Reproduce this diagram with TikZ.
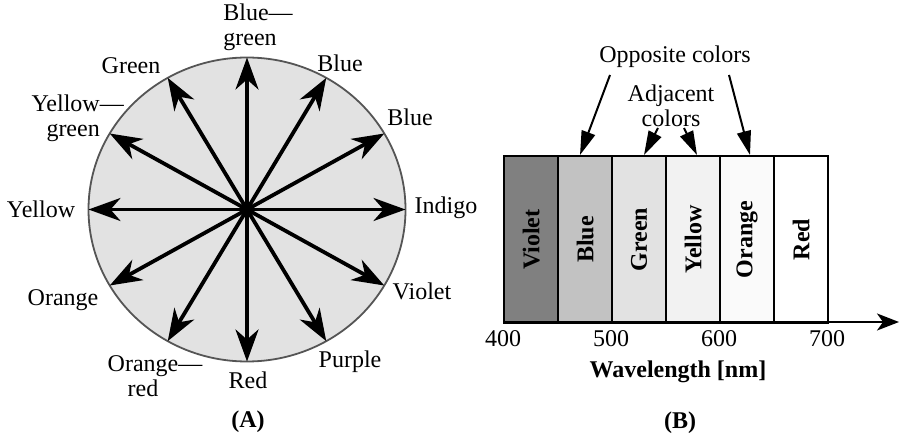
\documentclass[tikz,border=0pt]{standalone}
\usepackage{fontspec}
\setmainfont{Liberation Serif}
\usetikzlibrary{arrows.meta,calc}
\definecolor{wheelfill}{HTML}{E2E2E2}
\definecolor{wheeledge}{HTML}{555555}
\definecolor{cviolet}{HTML}{808080}
\definecolor{cblue}{HTML}{C2C2C2}
\definecolor{cgreen}{HTML}{E2E2E2}
\definecolor{cyellow}{HTML}{F2F2F2}
\definecolor{corange}{HTML}{FAFAFA}
\definecolor{cred}{HTML}{FFFFFF}
\tikzset{
  lbl/.style={inner sep=0pt, font=\fontsize{24}{25}\selectfont},
  blbl/.style={inner sep=0pt, font=\fontsize{24}{25}\selectfont\bfseries},
  ray/.style={line width=3.8pt, -{Stealth[length=32pt,width=23pt,inset=10pt]}},
  pointer/.style={line width=2pt, -{Triangle[length=24pt,width=14pt]}},
  band/.style={draw=black, line width=2.2pt, minimum width=54pt, minimum height=167pt, inner sep=0pt, anchor=north west},
  bandtxt/.style={rotate=90, inner sep=0pt, font=\fontsize{24}{25}\selectfont\bfseries}
}
\begin{document}
\begin{tikzpicture}[x=1pt,y=-1pt]
\useasboundingbox (0,0) rectangle (901,435);
% ---------- (A) colour wheel ----------
\coordinate (c) at (247,209.5);
\draw[fill=wheelfill, draw=wheeledge, line width=1.8pt] (c) ellipse [x radius=158.5pt, y radius=152pt];
\foreach \a/\n in {0/e0,30/e30,60/e60,90/e90,120/e120,150/e150,180/e180,210/e210,240/e240,270/e270,300/e300,330/e330}{
  \coordinate (\n) at ($(c)+(\a:158.5pt and 152pt)$);
}
\foreach \n in {e0,e30,e60,e90,e120,e150,e180,e210,e240,e270,e300,e330}{
  \draw[ray] (c) -- (\n);
}
\node[lbl, align=left] (lbg) at (250,27) {Blue\rlap{—}\\green};
\node[lbl] (lgreen) at (131,66) {Green};
\node[lbl] (lblue1) at (340,63) {Blue};
\node[lbl] (lblue2) at (410,117) {Blue};
\node[lbl, align=right, anchor=east] (lyg) at (100,118) {Yellow\rlap{—}\\green};
\node[lbl] (lyellow) at (41,209) {Yellow};
\node[lbl] (lindigo) at (446,208) {Indigo};
\node[lbl] (lviolet) at (422,291) {Violet};
\node[lbl] (lorange) at (63,300) {Orange};
\node[lbl, align=center] (lor) at (143,376) {Orange\rlap{—}\\red};
\node[lbl] (lred) at (248,380) {Red};
\node[lbl] (lpurple) at (350,362) {Purple};
\node[blbl] (capA) at (248,422) {(A)};
% ---------- (B) spectrum ----------
\node[band, fill=cviolet] (bviolet) at (503,155) {};
\node[band, fill=cblue] (bblue) at (557,155) {};
\node[band, fill=cgreen] (bgreen) at (611,155) {};
\node[band, fill=cyellow] (byellow) at (665,155) {};
\node[band, fill=corange] (borange) at (719,155) {};
\node[band, fill=cred] (bred) at (773,155) {};
\node[bandtxt] at (bviolet) {Violet};
\node[bandtxt] at (bblue) {Blue};
\node[bandtxt] at (bgreen) {Green};
\node[bandtxt] at (byellow) {Yellow};
\node[bandtxt] at (borange) {Orange};
\node[bandtxt] at (bred) {Red};
\coordinate (axstart) at (503,322);
\coordinate (axend) at (899,322);
\draw[line width=2.2pt, -{Stealth[length=22pt,width=17pt,inset=6pt]}] (axstart) -- (axend);
\node[lbl] (t400) at (503,339) {400};
\node[lbl] (t500) at (611,339) {500};
\node[lbl] (t600) at (719,339) {600};
\node[lbl] (t700) at (827,339) {700};
\node[blbl] (xlabel) at (678,372) {Wavelength [nm]};
\node[blbl] (capB) at (680,423) {(B)};
\node[lbl] (opp) at (675,57) {Opposite colors};
\node[lbl, align=center] (adj) at (671,106) {Adjacent\\colors};
\coordinate (o1s) at (610,75);
\coordinate (o1e) at (580,155);
\coordinate (o2s) at (729,75);
\coordinate (o2e) at (750,155);
\coordinate (a1s) at (658,128);
\coordinate (a1e) at (644,155);
\coordinate (a2s) at (684,128);
\coordinate (a2e) at (697,155);
\draw[pointer] (o1s) -- (o1e);
\draw[pointer] (o2s) -- (o2e);
\draw[pointer] (a1s) -- (a1e);
\draw[pointer] (a2s) -- (a2e);
\end{tikzpicture}
\end{document}
